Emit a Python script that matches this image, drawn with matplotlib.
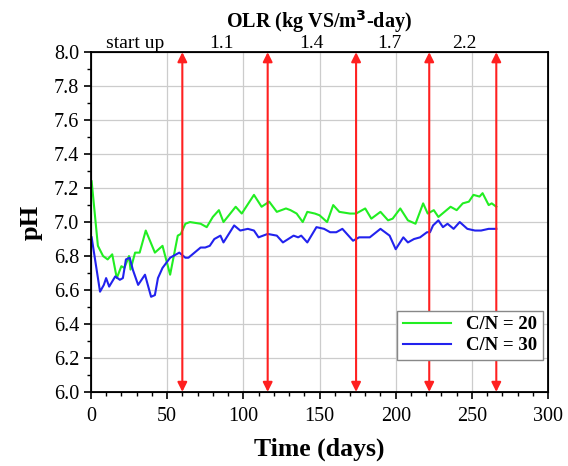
import numpy as np
import matplotlib
matplotlib.use("Agg")
import matplotlib.pyplot as plt

plt.rcParams['font.family'] = ['Liberation Serif', 'DejaVu Serif']

# C/N = 20 (green)
cn20_day = [0.5, 4.6, 8, 11, 14, 17, 20, 22, 25, 26, 29, 32, 36, 42, 47, 52, 57, 59, 62,
            65, 72, 76, 80, 84, 87, 95, 99, 107, 112, 117, 122, 128, 131, 135, 139, 142,
            147, 150, 155, 159, 163, 170, 174, 180, 184, 190, 195, 198, 203, 208, 213,
            218, 221, 225, 228, 236, 240, 244, 248, 251, 255, 257, 261, 263, 266]
cn20_ph = [7.24, 6.86, 6.80, 6.78, 6.81, 6.67, 6.74, 6.73, 6.80, 6.72, 6.82, 6.82, 6.95,
           6.82, 6.86, 6.69, 6.92, 6.93, 6.99,
           7.00, 6.99, 6.97, 7.03, 7.07, 7.00, 7.09, 7.05, 7.16, 7.09, 7.12, 7.06, 7.08,
           7.07, 7.05, 7.00, 7.06, 7.05, 7.04, 7.00, 7.10, 7.06, 7.05, 7.05, 7.08, 7.02,
           7.06, 7.01, 7.02, 7.08, 7.01, 6.99, 7.11, 7.05, 7.07, 7.03, 7.09, 7.07, 7.11,
           7.12, 7.16, 7.15, 7.17, 7.10, 7.11, 7.09]

# C/N = 30 (blue)
cn30_day = [0.5, 6, 8.5, 10, 12, 16, 19, 21, 23, 25.5, 27.5, 31, 34, 35.5, 39.5, 42, 44,
            47, 52, 56, 58, 62, 64, 68, 72, 75, 78, 81, 85, 87, 94, 98, 103, 107, 110,
            116, 122, 126, 133, 136, 138, 142, 148, 153, 157, 161, 165, 172, 176, 183,
            190, 196, 200, 205, 208, 212, 216, 220.5, 222.5, 224.5, 228, 231, 234, 238,
            242, 247, 252, 256, 261, 266]
cn30_ph = [6.91, 6.59, 6.63, 6.67, 6.62, 6.68, 6.66, 6.67, 6.78, 6.79, 6.72, 6.63, 6.67,
           6.69, 6.56, 6.57, 6.67, 6.73, 6.79, 6.81, 6.82, 6.79, 6.79, 6.82, 6.85, 6.85,
           6.86, 6.90, 6.92, 6.88, 6.98, 6.95, 6.96, 6.95, 6.91, 6.93, 6.92, 6.88, 6.92,
           6.91, 6.92, 6.88, 6.97, 6.96, 6.94, 6.94, 6.96, 6.89, 6.91, 6.91, 6.96, 6.92,
           6.84, 6.91, 6.88, 6.90, 6.91, 6.94, 6.94, 6.98, 7.01, 6.97, 6.99, 6.96, 7.00,
           6.96, 6.95, 6.95, 6.96, 6.96]

# OLR change days (arrows) and top labels
arrow_days = [60, 116, 174, 222, 266]
olr_pos = [29, 86, 145, 196, 245]
olr_labels = ['start up', '1.1', '1.4', '1.7', '2.2']

fig = plt.figure(figsize=(5.68, 4.66), dpi=100)
ax = fig.add_axes([0.160, 0.159, 0.805, 0.729])

ax.grid(True, color='#cccccc', linewidth=0.9, zorder=0)
ax.plot(cn20_day, cn20_ph, color='#22ee22', lw=1.5, label='C/N = 20', zorder=3)
ax.plot(cn30_day, cn30_ph, color='#2222ee', lw=1.5, label='C/N = 30', zorder=3)

for d in arrow_days:
    ax.annotate('', xy=(d, 8.0), xytext=(d, 6.0),
                arrowprops=dict(arrowstyle='<|-|>', color='#ff2020', lw=1.5,
                                mutation_scale=14, shrinkA=0, shrinkB=0),
                zorder=4)

ax.set_xlim(0, 300)
ax.set_ylim(6.0, 8.0)
ax.set_xticks(np.arange(0, 301, 50))
ax.set_xticks(np.arange(0, 301, 10), minor=True)
ax.set_yticks(np.arange(6.0, 8.01, 0.2))
ax.set_yticks(np.arange(6.0, 8.01, 0.1), minor=True)
ax.set_yticklabels([f'{v:.1f}' for v in np.arange(6.0, 8.01, 0.2)])
ax.tick_params(which='major', direction='out', length=5, width=1.2, labelsize=14.5)
ax.tick_params(axis='x', which='major', pad=6)
ax.tick_params(which='minor', direction='out', length=3, width=1.0)
for s in ax.spines.values():
    s.set_linewidth(1.3)

ax.set_xlabel('Time (days)', fontsize=18.5, fontweight='bold', labelpad=8)
ax.set_ylabel('pH', fontsize=19, fontweight='bold', labelpad=8)

top = ax.twiny()
top.set_xlim(ax.get_xlim())
top.set_xticks(olr_pos)
top.set_xticklabels(olr_labels)
top.tick_params(axis='x', length=0, labelsize=14, pad=0)
top.set_xlabel('OLR (kg VS/m$^\\mathbf{3}$-day)', fontsize=14.5, fontweight='bold', labelpad=5)

leg = ax.legend(loc='lower right', bbox_to_anchor=(0.989, 0.094), borderaxespad=0,
                fancybox=False, edgecolor='#888888', framealpha=1, handlelength=2.6,
                prop={'weight': 'bold', 'size': 13.5}, borderpad=0.3, labelspacing=0.2)
leg.get_frame().set_linewidth(1.0)

fig.savefig('out.png', dpi=100)
